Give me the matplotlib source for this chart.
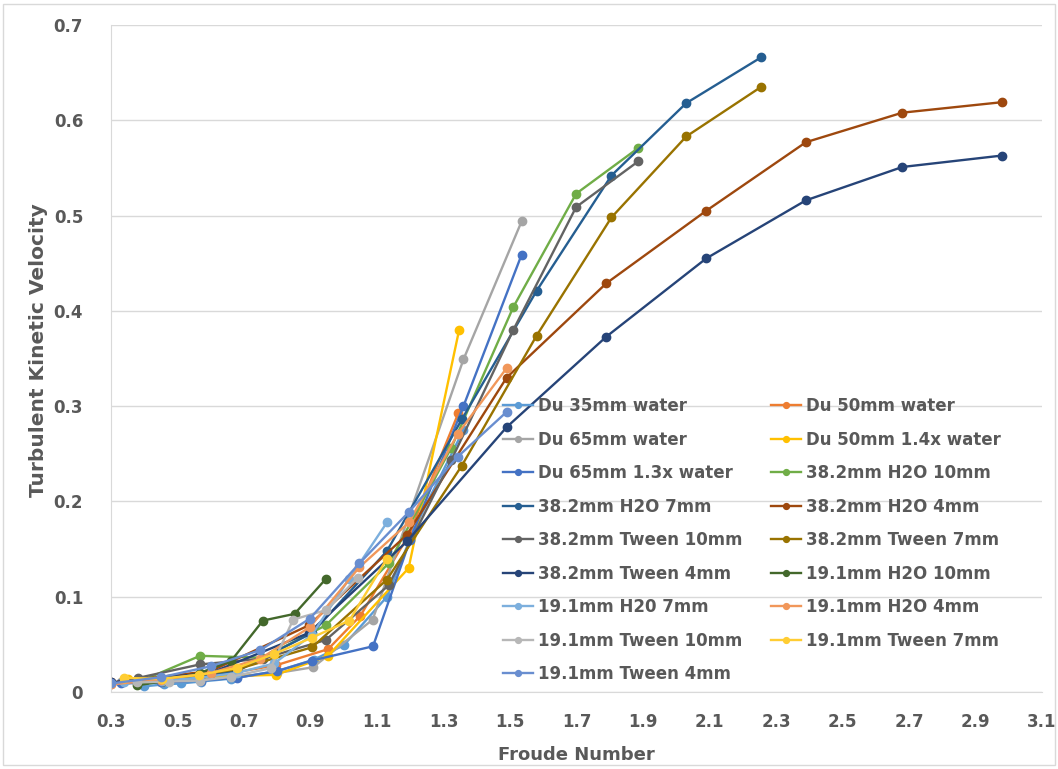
import matplotlib
matplotlib.use("Agg")
import matplotlib.pyplot as plt
from matplotlib.patches import Rectangle

# froude number grids
x_du35 = [0.40, 0.46, 0.51, 0.57, 0.66, 0.80, 0.91, 1.00, 1.13, 1.21, 1.36]
y_du35 = [0.006, 0.008, 0.009, 0.011, 0.014, 0.022, 0.034, 0.049, 0.100, 0.170, 0.275]

x_du50 = [0.30, 0.45, 0.57, 0.68, 0.796, 0.953, 1.05, 1.196, 1.345]
y_du50 = [0.008, 0.012, 0.016, 0.021, 0.028, 0.045, 0.080, 0.165, 0.293]

x_du65 = [0.33, 0.45, 0.57, 0.68, 0.80, 0.908, 1.087, 1.36, 1.535]
y_du65 = [0.010, 0.011, 0.013, 0.016, 0.020, 0.026, 0.076, 0.349, 0.494]

x_du50_14 = [0.35, 0.57, 0.796, 0.953, 1.195, 1.347]
y_du50_14 = [0.014, 0.016, 0.018, 0.038, 0.130, 0.380]

x_du65_13 = [0.33, 0.45, 0.57, 0.68, 0.80, 0.904, 1.088, 1.20, 1.36, 1.535]
y_du65_13 = [0.009, 0.010, 0.012, 0.015, 0.022, 0.033, 0.048, 0.160, 0.300, 0.459]

x_38_10 = [0.38, 0.568, 0.757, 0.946, 1.135, 1.323, 1.51, 1.699, 1.886]
y_h2o_38_10 = [0.010, 0.038, 0.036, 0.070, 0.135, 0.256, 0.404, 0.523, 0.571]
y_tw_38_10 = [0.0147, 0.029, 0.035, 0.0546, 0.112, 0.243, 0.380, 0.509, 0.557]

x_38_7 = [0.455, 0.68, 0.905, 1.13, 1.355, 1.58, 1.805, 2.03, 2.255]
y_h2o_38_7 = [0.012, 0.022, 0.062, 0.148, 0.286, 0.421, 0.542, 0.618, 0.666]
y_tw_38_7 = [0.012, 0.024, 0.047, 0.118, 0.2375, 0.374, 0.498, 0.583, 0.635]

x_38_4 = [0.30, 0.60, 0.895, 1.19, 1.49, 1.79, 2.09, 2.39, 2.68, 2.98]
y_h2o_38_4 = [0.010, 0.022, 0.070, 0.165, 0.330, 0.429, 0.505, 0.577, 0.608, 0.619]
y_tw_38_4 = [0.010, 0.020, 0.062, 0.158, 0.278, 0.373, 0.455, 0.516, 0.551, 0.563]

x_19_10 = [0.378, 0.473, 0.568, 0.662, 0.757, 0.852, 0.947]
y_h2o_19_10 = [0.007, 0.012, 0.020, 0.033, 0.075, 0.082, 0.119]
x_tw_19_10 = [0.378, 0.473, 0.568, 0.662, 0.78, 0.848, 0.947, 1.042]
y_tw_19_10 = [0.010, 0.011, 0.012, 0.016, 0.025, 0.076, 0.086, 0.120]

x_19_7 = [0.339, 0.452, 0.565, 0.678, 0.791, 0.904, 1.017, 1.13]
y_h2o_19_7 = [0.010, 0.012, 0.015, 0.020, 0.030, 0.060, 0.119, 0.178]
y_tw_19_7 = [0.0147, 0.014, 0.018, 0.025, 0.040, 0.057, 0.075, 0.140]

x_19_4 = [0.30, 0.45, 0.60, 0.749, 0.898, 1.047, 1.196, 1.343, 1.49]
y_h2o_19_4 = [0.008, 0.013, 0.020, 0.035, 0.068, 0.131, 0.178, 0.271, 0.340]
y_tw_19_4 = [0.009, 0.0155, 0.027, 0.044, 0.077, 0.135, 0.189, 0.247, 0.294]

series = [
    ("Du 35mm water", x_du35, y_du35, "#5B9BD5"),
    ("Du 50mm water", x_du50, y_du50, "#ED7D31"),
    ("Du 65mm water", x_du65, y_du65, "#A5A5A5"),
    ("Du 50mm 1.4x water", x_du50_14, y_du50_14, "#FFC000"),
    ("Du 65mm 1.3x water", x_du65_13, y_du65_13, "#4472C4"),
    ("38.2mm H2O 10mm", x_38_10, y_h2o_38_10, "#70AD47"),
    ("38.2mm H2O 7mm", x_38_7, y_h2o_38_7, "#255E91"),
    ("38.2mm H2O 4mm", x_38_4, y_h2o_38_4, "#9E480E"),
    ("38.2mm Tween 10mm", x_38_10, y_tw_38_10, "#636363"),
    ("38.2mm Tween 7mm", x_38_7, y_tw_38_7, "#997300"),
    ("38.2mm Tween 4mm", x_38_4, y_tw_38_4, "#264478"),
    ("19.1mm H2O 10mm", x_19_10, y_h2o_19_10, "#43682B"),
    ("19.1mm H20 7mm", x_19_7, y_h2o_19_7, "#7CAFDD"),
    ("19.1mm H2O 4mm", x_19_4, y_h2o_19_4, "#F1975A"),
    ("19.1mm Tween 10mm", x_tw_19_10, y_tw_19_10, "#B7B7B7"),
    ("19.1mm Tween 7mm", x_19_7, y_tw_19_7, "#FFCD33"),
    ("19.1mm Tween 4mm", x_19_4, y_tw_19_4, "#698ED0"),
]

txt = "#595959"
fig = plt.figure(figsize=(10.58, 7.69), dpi=100)
fig.patches.append(Rectangle((0.003, 0.005), 0.994, 0.99, transform=fig.transFigure,
                             fill=False, edgecolor="#D9D9D9", linewidth=1))
ax = fig.add_axes([0.1049, 0.1001, 0.88, 0.8674])

handles = []
for name, xs, ys, c in series:
    h, = ax.plot(xs, ys, color=c, lw=1.7, marker="o", ms=6, label=name)
    handles.append(h)

ax.set_xlim(0.3, 3.1)
ax.set_ylim(0, 0.7)
ax.set_xticks([0.3 + 0.2 * i for i in range(15)])
ax.set_xticklabels(["%.1f" % (0.3 + 0.2 * i) for i in range(15)])
ax.set_yticks([0.1 * i for i in range(8)])
ax.set_yticklabels(["0"] + ["%.1f" % (0.1 * i) for i in range(1, 8)])
ax.grid(axis="y", color="#D9D9D9", lw=1)
ax.set_axisbelow(True)
for s in ["top", "right"]:
    ax.spines[s].set_visible(False)
ax.spines["left"].set_color("#D9D9D9")
ax.spines["bottom"].set_color("#D9D9D9")
ax.tick_params(length=0)
ax.tick_params(axis="y", pad=20, labelsize=12, labelcolor=txt)
ax.tick_params(axis="x", pad=15, labelsize=12, labelcolor=txt)
for t in ax.get_yticklabels():
    t.set_fontweight("bold")
for t in ax.get_xticklabels():
    t.set_fontweight("bold")

fig.text(0.036, 0.545, "Turbulent Kinetic Velocity", rotation=90, ha="center", va="center",
         fontsize=14.5, fontweight="bold", color=txt)
fig.text(0.545, 0.006, "Froude Number", ha="center", va="bottom",
         fontsize=13, fontweight="bold", color=txt)

order = list(range(0, 17, 2)) + list(range(1, 17, 2))
leg = ax.legend([handles[i] for i in order], [series[i][0] for i in order],
                ncol=2, loc="upper left", bbox_to_anchor=(0.461, 0.503), bbox_transform=fig.transFigure,
                frameon=False, fontsize=12, handlelength=1.8, handletextpad=0.3,
                columnspacing=1.7, labelspacing=0.93, markerscale=0.7)
for t in leg.get_texts():
    t.set_color(txt)
    t.set_fontweight("bold")

fig.savefig("out.png", dpi=100)
